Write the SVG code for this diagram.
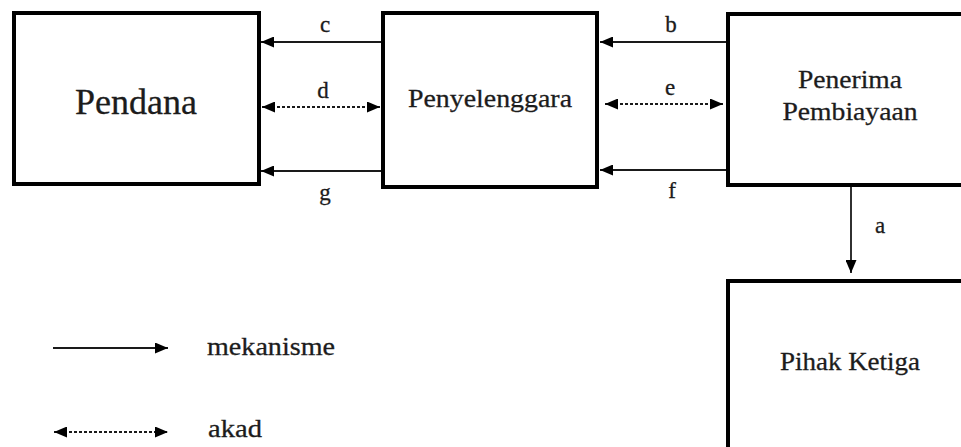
<svg xmlns="http://www.w3.org/2000/svg" width="961" height="447" viewBox="0 0 961 447">
<defs>
<marker id="ah" viewBox="0 0 13 11" refX="13" refY="5.5" markerWidth="13" markerHeight="11" markerUnits="userSpaceOnUse" orient="auto-start-reverse">
<path d="M0,0 L13,5.5 L0,11 Z" fill="#000"/>
</marker>
</defs>
<style>
.box{fill:#fff;stroke:#000;stroke-width:4}
.ln{stroke:#1a1a1a;stroke-width:1.8;fill:none}
.ds{stroke:#1a1a1a;stroke-width:1.8;fill:none;stroke-dasharray:3 2}
.t{font-family:"Liberation Serif","Times New Roman",serif;fill:#1c1c1c;stroke:#1c1c1c;stroke-width:0.3}
.lb{font-family:"Liberation Serif","Times New Roman",serif;font-size:23px;fill:#1c1c1c;stroke:#1c1c1c;stroke-width:0.3;text-anchor:middle}
</style>
<rect width="961" height="447" fill="#fff"/>
<g id="pendana">
<rect class="box" x="14" y="13" width="245" height="171"/>
<text class="t" x="136" y="114" font-size="35" text-anchor="middle" textLength="122" lengthAdjust="spacingAndGlyphs">Pendana</text>
</g>
<g id="penyelenggara">
<rect class="box" x="383" y="13" width="214" height="174"/>
<text class="t" x="490" y="107" font-size="26" text-anchor="middle" textLength="164" lengthAdjust="spacingAndGlyphs">Penyelenggara</text>
</g>
<g id="penerima">
<rect class="box" x="728" y="14" width="240" height="171"/>
<text class="t" x="850" y="88" font-size="26" text-anchor="middle" textLength="104" lengthAdjust="spacingAndGlyphs">Penerima</text>
<text class="t" x="850" y="120" font-size="26" text-anchor="middle" textLength="135" lengthAdjust="spacingAndGlyphs">Pembiayaan</text>
</g>
<g id="pihak-ketiga">
<rect class="box" x="728" y="281" width="240" height="180"/>
<text class="t" x="850" y="370" font-size="26" text-anchor="middle" textLength="140" lengthAdjust="spacingAndGlyphs">Pihak Ketiga</text>
</g>
<g id="connectors">
<line class="ln" x1="381" y1="42" x2="261" y2="42" marker-end="url(#ah)"/>
<line class="ds" x1="262" y1="107" x2="380" y2="107" marker-start="url(#ah)" marker-end="url(#ah)"/>
<line class="ln" x1="381" y1="171" x2="261" y2="171" marker-end="url(#ah)"/>
<line class="ln" x1="726" y1="42" x2="600" y2="42" marker-end="url(#ah)"/>
<line class="ds" x1="605" y1="104" x2="723" y2="104" marker-start="url(#ah)" marker-end="url(#ah)"/>
<line class="ln" x1="726" y1="170" x2="600" y2="170" marker-end="url(#ah)"/>
<line class="ln" x1="851" y1="187" x2="851" y2="273" marker-end="url(#ah)"/>
<text class="lb" x="325" y="32">c</text>
<text class="lb" x="323" y="98">d</text>
<text class="lb" x="325" y="200">g</text>
<text class="lb" x="671" y="32">b</text>
<text class="lb" x="670" y="95">e</text>
<text class="lb" x="672" y="198">f</text>
<text class="lb" x="880" y="233">a</text>
</g>
<g id="legend">
<line class="ln" x1="53" y1="348" x2="168" y2="348" marker-end="url(#ah)"/>
<text class="t" x="207" y="355" font-size="25" textLength="128" lengthAdjust="spacingAndGlyphs">mekanisme</text>
<line class="ds" x1="54" y1="432" x2="168" y2="432" marker-start="url(#ah)" marker-end="url(#ah)"/>
<text class="t" x="208" y="437" font-size="25" textLength="54" lengthAdjust="spacingAndGlyphs">akad</text>
</g>
</svg>
